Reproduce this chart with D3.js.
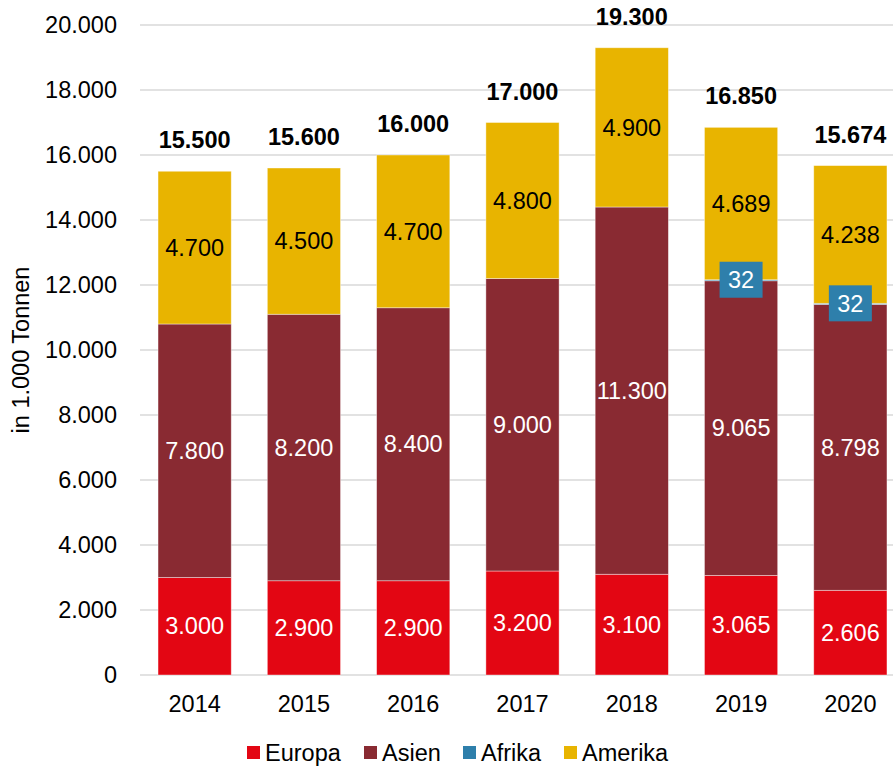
<!DOCTYPE html>
<html>
<head>
<meta charset="utf-8">
<script src="https://cdn.jsdelivr.net/npm/d3@7"></script>
<style>
  body { margin: 0; background: #fff; }
  svg { display: block; font-family: "Liberation Sans", Arial, sans-serif; }
</style>
</head>
<body>
<div id="chart"></div>
<script>
// data
const years = ["2014", "2015", "2016", "2017", "2018", "2019", "2020"];
const europa = [3000, 2900, 2900, 3200, 3100, 3065, 2606];
const asien = [7800, 8200, 8400, 9000, 11300, 9065, 8798];
const afrika = [0, 0, 0, 0, 0, 32, 32];
const amerika = [4700, 4500, 4700, 4800, 4900, 4689, 4238];
const totals = [15500, 15600, 16000, 17000, 19300, 16850, 15674];
const yTicks = [0, 2000, 4000, 6000, 8000, 10000, 12000, 14000, 16000, 18000, 20000];

const seriesNames = ["Europa", "Asien", "Afrika", "Amerika"];
const colors = ["#e30613", "#892a32", "#2e7fab", "#e8b400"];
const labelColors = ["#fff", "#fff", "#fff", "#000"];

const W = 893, H = 771;
const fs = 23.5;
const svg = d3.select("#chart").append("svg").attr("width", W).attr("height", H);

const de = d3.formatLocale({decimal: ",", thousands: ".", grouping: [3], currency: ["", "€"]});
const fmt = de.format(",d");

// scales
const x = d3.scaleBand().domain(years).range([140, 905]).paddingInner(0.33).paddingOuter(0.165);
const y = d3.scaleLinear().domain([0, 20000]).range([675, 25]);

// gridlines
svg.append("g").selectAll("line")
  .data(yTicks)
  .join("line")
    .attr("x1", 140).attr("x2", W)
    .attr("y1", d => y(d)).attr("y2", d => y(d))
    .attr("stroke", "#d9d9d9")
    .attr("stroke-width", 1.5);

// y axis labels
svg.append("g").selectAll("text")
  .data(yTicks)
  .join("text")
    .attr("x", 117)
    .attr("y", d => y(d))
    .attr("dy", "0.35em")
    .attr("text-anchor", "end")
    .attr("font-size", fs)
    .attr("fill", "#000")
    .text(d => d === 0 ? "0" : fmt(d));

svg.append("text")
  .attr("transform", `translate(29,${y(10000)}) rotate(-90)`)
  .attr("text-anchor", "middle")
  .attr("font-size", fs)
  .text("in 1.000 Tonnen");

// stack
const rows = years.map((yr, i) => ({year: yr, Europa: europa[i], Asien: asien[i], Afrika: afrika[i], Amerika: amerika[i]}));
const stacked = d3.stack().keys(seriesNames)(rows);

const layers = svg.append("g").selectAll("g")
  .data(stacked)
  .join("g")
    .attr("fill", (d, i) => colors[i]);

layers.selectAll("rect")
  .data(d => d)
  .join("rect")
    .attr("x", d => x(d.data.year))
    .attr("width", x.bandwidth())
    .attr("y", d => y(d[1]))
    .attr("height", d => y(d[0]) - y(d[1]))
    .attr("stroke", "rgba(255,255,255,0.5)")
    .attr("stroke-width", 0.8);

// segment labels (Europa, Asien, Amerika)
stacked.forEach((layer, si) => {
  if (seriesNames[si] === "Afrika") return;
  svg.append("g").selectAll("text")
    .data(layer)
    .join("text")
      .attr("x", d => x(d.data.year) + x.bandwidth() / 2)
      .attr("y", d => (y(d[0]) + y(d[1])) / 2)
      .attr("dy", "0.35em")
      .attr("text-anchor", "middle")
      .attr("font-size", fs)
      .attr("fill", labelColors[si])
      .text(d => fmt(d[1] - d[0]));
});

// Afrika labels with boxes
const afr = stacked[2].filter(d => d[1] - d[0] > 0);
const afrG = svg.append("g").selectAll("g")
  .data(afr)
  .join("g")
    .attr("transform", d => `translate(${x(d.data.year) + x.bandwidth() / 2},${y(d[1])})`);
afrG.append("rect")
  .attr("x", -21.5).attr("y", -18)
  .attr("width", 43).attr("height", 36)
  .attr("fill", colors[2]);
afrG.append("text")
  .attr("text-anchor", "middle")
  .attr("dy", "0.35em")
  .attr("font-size", fs)
  .attr("fill", "#fff")
  .text(d => fmt(d[1] - d[0]));

// totals
svg.append("g").selectAll("text")
  .data(years)
  .join("text")
    .attr("x", d => x(d) + x.bandwidth() / 2)
    .attr("y", (d, i) => y(totals[i]) - 23)
    .attr("text-anchor", "middle")
    .attr("font-size", fs)
    .attr("font-weight", "bold")
    .text((d, i) => fmt(totals[i]));

// x axis labels
svg.append("g").selectAll("text")
  .data(years)
  .join("text")
    .attr("x", d => x(d) + x.bandwidth() / 2)
    .attr("y", 704)
    .attr("dy", "0.35em")
    .attr("text-anchor", "middle")
    .attr("font-size", fs)
    .text(d => d);

// legend
const legendX = [247, 364, 463, 564];
const legend = svg.append("g").selectAll("g")
  .data(seriesNames)
  .join("g")
    .attr("transform", (d, i) => `translate(${legendX[i]},753)`);
legend.append("rect")
  .attr("x", 0).attr("y", -7)
  .attr("width", 13).attr("height", 13)
  .attr("fill", (d, i) => colors[i]);
legend.append("text")
  .attr("x", 18)
  .attr("dy", "0.35em")
  .attr("font-size", fs)
  .text(d => d);
</script>
</body>
</html>
